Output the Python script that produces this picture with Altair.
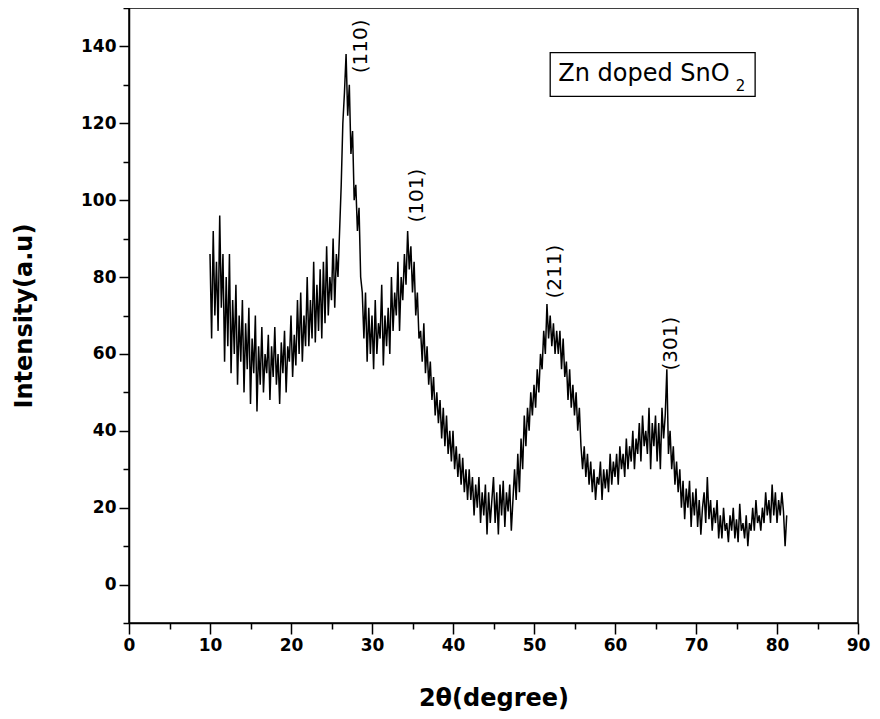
import altair as alt
import pandas as pd

FONT = "DejaVu Sans"

# sampling grid of the scan (degrees 2-theta)
start_deg = 10.0
step_deg = 0.2

# intensity, one row per degree (values at .0 .2 .4 .6 .8)
intensity_rows = [
    [86, 64, 92, 70, 84],   # 10
    [66, 96, 72, 86, 58],   # 11
    [80, 62, 86, 55, 74],   # 12
    [60, 78, 52, 70, 58],   # 13
    [74, 50, 68, 56, 72],   # 14
    [47, 64, 55, 70, 45],   # 15
    [62, 52, 67, 50, 60],   # 16
    [55, 65, 48, 62, 54],   # 17
    [67, 52, 60, 47, 63],   # 18
    [55, 66, 50, 62, 58],   # 19
    [70, 54, 65, 57, 74],   # 20
    [60, 76, 58, 70, 62],   # 21
    [80, 62, 74, 64, 84],   # 22
    [63, 78, 66, 82, 64],   # 23
    [84, 68, 88, 70, 80],   # 24
    [74, 90, 72, 86, 80],   # 25
    [92, 104, 120, 128, 138],  # 26
    [122, 130, 112, 118, 100],  # 27
    [104, 92, 98, 80, 76],  # 28
    [64, 76, 58, 72, 60],   # 29
    [70, 56, 74, 60, 68],   # 30
    [64, 78, 57, 70, 62],   # 31
    [72, 60, 80, 66, 76],   # 32
    [70, 84, 66, 80, 74],   # 33
    [86, 78, 92, 82, 88],   # 34
    [76, 84, 70, 76, 64],   # 35
    [66, 58, 68, 55, 62],   # 36
    [52, 58, 48, 54, 44],   # 37
    [50, 42, 48, 38, 46],   # 38
    [36, 44, 34, 40, 32],   # 39
    [40, 30, 36, 28, 34],   # 40
    [26, 33, 24, 30, 22],   # 41
    [30, 22, 28, 18, 26],   # 42
    [20, 28, 16, 24, 18],   # 43
    [26, 13, 24, 16, 22],   # 44
    [28, 16, 24, 13, 26],   # 45
    [18, 27, 15, 24, 19],   # 46
    [26, 14, 22, 30, 22],   # 47
    [34, 24, 38, 30, 44],   # 48
    [36, 46, 40, 50, 44],   # 49
    [52, 46, 56, 50, 60],   # 50
    [56, 66, 60, 73, 64],   # 51
    [70, 62, 68, 60, 66],   # 52
    [60, 66, 56, 64, 54],   # 53
    [58, 48, 56, 46, 52],   # 54
    [44, 50, 40, 46, 36],   # 55
    [30, 36, 28, 34, 26],   # 56
    [32, 24, 30, 22, 28],   # 57
    [26, 32, 22, 30, 25],   # 58
    [30, 24, 34, 26, 32],   # 59
    [28, 34, 26, 36, 30],   # 60
    [34, 28, 38, 30, 36],   # 61
    [32, 40, 30, 38, 34],   # 62
    [42, 32, 44, 36, 40],   # 63
    [34, 46, 30, 42, 36],   # 64
    [44, 32, 42, 30, 46],   # 65
    [38, 44, 56, 34, 40],   # 66
    [30, 36, 26, 32, 24],   # 67
    [30, 20, 27, 17, 25],   # 68
    [20, 27, 15, 24, 18],   # 69
    [25, 15, 22, 13, 20],   # 70
    [24, 16, 28, 17, 22],   # 71
    [14, 20, 16, 22, 12],   # 72
    [18, 12, 20, 14, 16],   # 73
    [11, 18, 14, 20, 12],   # 74
    [17, 11, 21, 14, 16],   # 75
    [12, 18, 10, 16, 14],   # 76
    [20, 14, 22, 16, 18],   # 77
    [14, 20, 16, 24, 18],   # 78
    [22, 16, 26, 18, 24],   # 79
    [16, 22, 18, 24, 19],   # 80
    [10, 18],               # 81
]

intensity = [v for row in intensity_rows for v in row]
two_theta = [round(start_deg + step_deg * i, 2) for i in range(len(intensity))]

# peak annotations
peak_labels = ["(110)", "(101)", "(211)", "(301)"]
peak_x = [28.7, 35.6, 52.6, 66.9]
peak_y = [133.0, 94.2, 74.4, 55.7]

# legend box (data coordinates) and its text
box_x = [52.0]
box_x2 = [77.3]
box_y = [127.0]
box_y2 = [138.4]
legend_main = ["Zn doped SnO"]
legend_main_x = [53.0]
legend_main_y = [131.0]
legend_sub = ["2"]
legend_sub_x = [74.9]
legend_sub_y = [128.4]

x_major_ticks = list(range(0, 91, 10))
x_minor_ticks = list(range(5, 90, 10))
y_major_ticks = list(range(0, 141, 20))
y_minor_ticks = list(range(-10, 151, 20))

df = pd.DataFrame({"two_theta": two_theta, "intensity": intensity})
peaks = pd.DataFrame({"x": peak_x, "y": peak_y, "label": peak_labels})
box = pd.DataFrame({"x": box_x, "x2": box_x2, "y": box_y, "y2": box_y2})
leg_main = pd.DataFrame({"x": legend_main_x, "y": legend_main_y, "t": legend_main})
leg_sub = pd.DataFrame({"x": legend_sub_x, "y": legend_sub_y, "t": legend_sub})

xscale = alt.Scale(domain=[0, 90], nice=False, zero=False)
yscale = alt.Scale(domain=[-10, 150], nice=False, zero=False)

common_axis = dict(
    grid=False, domainColor="black", domainWidth=1.5, tickColor="black",
    tickWidth=1.5, labelColor="black", labelFont=FONT, labelFontWeight="bold",
    labelFontSize=17, titleFont=FONT, titleFontWeight="bold", titleFontSize=24,
    titleColor="black", labelOverlap=False, labelFlush=False,
)

x_major = alt.Axis(values=x_major_ticks, tickSize=11, labelPadding=3,
                   title="2θ(degree)", titleY=75, titleBaseline="middle",
                   orient="bottom", **common_axis)
y_major = alt.Axis(values=y_major_ticks, tickSize=10, labelPadding=3,
                   title="Intensity(a.u)", titleX=-105, titleBaseline="middle",
                   orient="left", **common_axis)

x_minor = alt.Axis(values=x_minor_ticks, tickSize=6, tickWidth=1.5, tickColor="black",
                   labels=False, domain=False, grid=False, title=None, orient="bottom")
y_minor = alt.Axis(values=y_minor_ticks, tickSize=6, tickWidth=1.5, tickColor="black",
                   labels=False, domain=False, grid=False, title=None, orient="left")

line = alt.Chart(df).mark_line(color="black", strokeWidth=1.5).encode(
    x=alt.X("two_theta:Q", scale=xscale, axis=x_major),
    y=alt.Y("intensity:Q", scale=yscale, axis=y_major),
)

peak_text = alt.Chart(peaks).mark_text(
    angle=270, align="left", baseline="middle", font=FONT, fontSize=20, color="black"
).encode(
    x=alt.X("x:Q", scale=xscale, axis=x_minor),
    y=alt.Y("y:Q", scale=yscale, axis=y_minor),
    text="label:N",
)

box_mark = alt.Chart(box).mark_rect(fill="white", fillOpacity=0, stroke="black", strokeWidth=1.3).encode(
    x=alt.X("x:Q", scale=xscale, axis=None),
    x2="x2:Q",
    y=alt.Y("y:Q", scale=yscale, axis=None),
    y2="y2:Q",
)

main_text = alt.Chart(leg_main).mark_text(
    align="left", baseline="alphabetic", font=FONT, fontSize=24, color="black"
).encode(
    x=alt.X("x:Q", scale=xscale, axis=None),
    y=alt.Y("y:Q", scale=yscale, axis=None),
    text="t:N",
)

sub_text = alt.Chart(leg_sub).mark_text(
    align="left", baseline="alphabetic", font=FONT, fontSize=15, color="black"
).encode(
    x=alt.X("x:Q", scale=xscale, axis=None),
    y=alt.Y("y:Q", scale=yscale, axis=None),
    text="t:N",
)

chart = alt.layer(line, peak_text, box_mark, main_text, sub_text).resolve_axis(
    x="independent", y="independent"
).properties(
    width=729, height=615,
    autosize=alt.AutoSizeParams(type="none"),
    padding={"left": 121, "top": 0, "right": 14, "bottom": 88},
    background="white",
).configure_view(stroke="black", strokeWidth=1.5)

chart.save("out.html", embed_options={"renderer": "svg", "actions": False})
